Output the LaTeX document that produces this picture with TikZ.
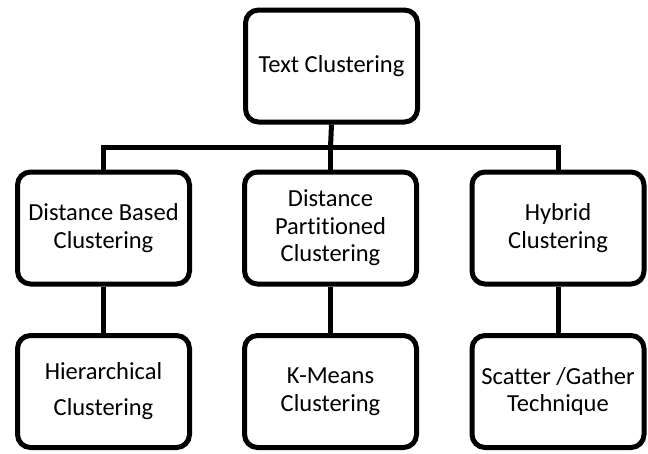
\documentclass[tikz,border=0pt]{standalone}
\usepackage{fontspec}
\setmainfont[Ligatures=NoCommon]{Carlito}
\begin{document}
\begin{tikzpicture}[x=1pt,y=1pt,
  box/.style={draw=black, line width=5pt, rounded corners=13pt, fill=white,
    minimum width=172pt, minimum height=112pt, align=center, inner sep=2pt,
    font=\fontsize{24.5}{27.5}\selectfont},
  conn/.style={draw=black, line width=5pt}]
\useasboundingbox (0,0) rectangle (648,-453);
\node[box] (top) at (331.5,-66) {Text Clustering};
\node[box] (dbc) at (103.5,-228) {Distance Based\\Clustering};
\node[box] (dpc) at (330.5,-228) {Distance\\Partitioned\\Clustering};
\node[box] (hyb) at (558,-228) {Hybrid\\Clustering};
\node[box, font=\fontsize{24.5}{36}\selectfont] (hier) at (103.5,-391.5) {Hierarchical\\Clustering};
\node[box] (km) at (330.5,-391.5) {K-Means\\Clustering};
\node[box] (sg) at (558,-391.5) {Scatter /Gather\\Technique};
\coordinate (bar) at (330.5,-147);
\draw[conn] (top.south) -- (bar);
\draw[conn] (dbc.north) |- (bar) -| (hyb.north);
\draw[conn] (bar) -- (dpc.north);
\draw[conn] (dbc.south) -- (hier.north);
\draw[conn] (dpc.south) -- (km.north);
\draw[conn] (hyb.south) -- (sg.north);
\end{tikzpicture}
\end{document}
